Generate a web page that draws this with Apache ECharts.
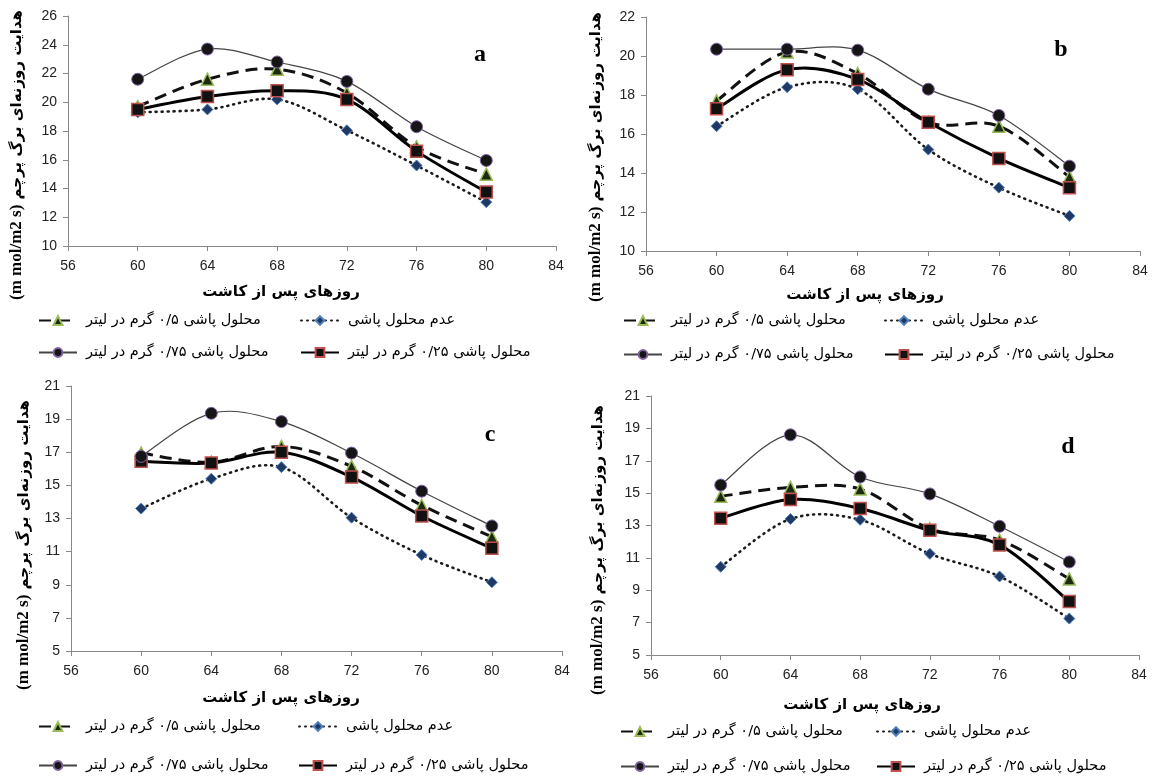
<!DOCTYPE html>
<html>
<head>
<meta charset="utf-8">
<script src="https://cdn.jsdelivr.net/npm/echarts@6/dist/echarts.min.js"></script>
<style>
  html, body { margin: 0; background: #fff; }
  #chart { width: 1154px; height: 780px; }
</style>
</head>
<body>
<div id="chart"></div>
<script>
// روزهای پس از کاشت
const days = [60, 64, 68, 72, 76, 80]
const xTicks = [56, 84, 4]            // min, max, interval

const seriesNames = [
  'عدم محلول پاشی',
  'محلول پاشی ۰/۵ گرم در لیتر',
  'محلول پاشی ۰/۲۵ گرم در لیتر',
  'محلول پاشی ۰/۷۵ گرم در لیتر'
]
const panelLetters = ['a', 'b', 'c', 'd']
const yTicks = [[10, 26, 2], [10, 22, 2], [5, 21, 2], [5, 21, 2]]

// panel a
const aNone = [19.3, 19.5, 20.2, 18.05, 15.6, 13.05]
const aHalf = [19.7, 21.6, 22.3, 20.65, 16.9, 15.0]
const aQuarter = [19.5, 20.4, 20.8, 20.2, 16.6, 13.75]
const aThreeQ = [21.6, 23.7, 22.8, 21.45, 18.3, 15.95]
// panel b
const bNone = [16.4, 18.4, 18.3, 15.2, 13.25, 11.8]
const bHalf = [17.7, 20.2, 19.1, 16.6, 16.4, 13.8]
const bQuarter = [17.3, 19.3, 18.8, 16.6, 14.75, 13.25]
const bThreeQ = [20.35, 20.35, 20.3, 18.3, 16.95, 14.35]
// panel c
const cNone = [13.6, 15.4, 16.1, 13.05, 10.8, 9.15]
const cHalf = [16.95, 16.4, 17.35, 16.15, 13.8, 11.9]
const cQuarter = [16.45, 16.35, 17.0, 15.5, 13.15, 11.2]
const cThreeQ = [16.75, 19.35, 18.85, 16.95, 14.65, 12.55]
// panel d
const dNone = [10.45, 13.4, 13.35, 11.25, 9.85, 7.25]
const dHalf = [14.8, 15.35, 15.25, 12.8, 12.1, 9.7]
const dQuarter = [13.45, 14.6, 14.05, 12.7, 11.8, 8.3]
const dThreeQ = [15.5, 18.6, 16.0, 14.95, 12.95, 10.75]

const panelData = [
  [aNone, aHalf, aQuarter, aThreeQ],
  [bNone, bHalf, bQuarter, bThreeQ],
  [cNone, cHalf, cQuarter, cThreeQ],
  [dNone, dHalf, dQuarter, dThreeQ]
]

// layout of each panel
const panels = [
  { grid: { left: 68, top: 16, width: 488, height: 230 }, xTitle: [281, 292], yTitle: [17, 155], letter: [480, 55],
    legL: 38, legR: 300, rows: [322, 354] },
  { grid: { left: 646, top: 17, width: 494, height: 234 }, xTitle: [865, 295], yTitle: [596, 157], letter: [1061, 50],
    legL: 623, legR: 884, rows: [322, 356] },
  { grid: { left: 71, top: 386, width: 491, height: 265 }, xTitle: [281, 698], yTitle: [24, 545], letter: [490, 435],
    legL: 38, legR: 298, rows: [728, 767] },
  { grid: { left: 651, top: 396, width: 488, height: 259 }, xTitle: [862, 705], yTitle: [598, 550], letter: [1068, 447],
    legL: 620, legR: 876, rows: [733, 768] }
]

// line and marker styles per treatment
const styles = [
  { line: { color: '#1a1a1a', width: 2.6, type: [1, 5], cap: 'round' },
    symbol: 'diamond', size: 11, item: { color: '#1f3864', borderColor: '#4f81bd', borderWidth: 1 } },
  { line: { color: '#111', width: 3, type: [12, 7], cap: 'butt' },
    symbol: 'triangle', size: 12, item: { color: '#1b2a10', borderColor: '#9bbb59', borderWidth: 1.5 } },
  { line: { color: '#000', width: 3, type: 'solid', cap: 'butt' },
    symbol: 'rect', size: 12, item: { color: '#111', borderColor: '#c0504d', borderWidth: 1.5 } },
  { line: { color: '#444', width: 1.2, type: 'solid', cap: 'butt' },
    symbol: 'circle', size: 12, item: { color: '#151515', borderColor: '#8064a2', borderWidth: 1 } }
]

const axisFont = { color: '#222', fontSize: 14, fontFamily: 'Liberation Sans' }
const faFont = 'DejaVu Sans'

// Excel-like smoothed curve (Catmull-Rom -> cubic bezier) through the data points
function smoothPath(pts) {
  let d = 'M' + pts[0][0] + ' ' + pts[0][1]
  for (let i = 0; i < pts.length - 1; i++) {
    const p0 = pts[Math.max(i - 1, 0)], p1 = pts[i], p2 = pts[i + 1], p3 = pts[Math.min(i + 2, pts.length - 1)]
    const c1x = p1[0] + (p2[0] - p0[0]) / 6, c1y = p1[1] + (p2[1] - p0[1]) / 6
    const c2x = p2[0] - (p3[0] - p1[0]) / 6, c2y = p2[1] - (p3[1] - p1[1]) / 6
    d += ' C' + c1x + ' ' + c1y + ' ' + c2x + ' ' + c2y + ' ' + p2[0] + ' ' + p2[1]
  }
  return d
}

const chart = echarts.init(document.getElementById('chart'))

const grids = [], xAxes = [], yAxes = [], series = [], legends = [], graphics = []

panels.forEach((p, i) => {
  grids.push(p.grid)
  xAxes.push({
    type: 'value', gridIndex: i, min: xTicks[0], max: xTicks[1], interval: xTicks[2],
    splitLine: { show: false },
    axisLine: { lineStyle: { color: '#888' } },
    axisTick: { show: true, length: 5, lineStyle: { color: '#888' } },
    axisLabel: Object.assign({ margin: 13 }, axisFont)
  })
  yAxes.push({
    type: 'value', gridIndex: i, min: yTicks[i][0], max: yTicks[i][1], interval: yTicks[i][2],
    splitLine: { show: false },
    axisLine: { show: true, lineStyle: { color: '#888' } },
    axisTick: { show: true, length: 5, lineStyle: { color: '#888' } },
    axisLabel: Object.assign({ margin: 11 }, axisFont)
  })

  panelData[i].forEach((vals, k) => {
    const st = styles[k]
    const pts = days.map((d, j) => [d, vals[j]])
    // smoothed line
    series.push({
      type: 'custom',
      xAxisIndex: i,
      yAxisIndex: i,
      silent: true,
      z: 2 + k * 0.1,
      data: pts,
      renderItem: (params, api) => {
        if (params.dataIndex !== 0) return null
        const px = pts.map(pt => api.coord(pt))
        return {
          type: 'path',
          shape: { pathData: smoothPath(px) },
          style: { fill: null, stroke: st.line.color, lineWidth: st.line.width,
            lineDash: Array.isArray(st.line.type) ? st.line.type : null, lineCap: st.line.cap }
        }
      }
    })
    // markers (and legend entry)
    series.push({
      name: seriesNames[k],
      type: 'line',
      xAxisIndex: i,
      yAxisIndex: i,
      data: pts,
      symbol: st.symbol,
      symbolSize: st.size,
      lineStyle: Object.assign({}, st.line, { opacity: 0 }),
      itemStyle: st.item,
      z: 3 + k
    })
  })

  // legend: two rows, icon left of text
  const legItems = [
    [seriesNames[1], p.legL, p.rows[0]],
    [seriesNames[0], p.legR, p.rows[0]],
    [seriesNames[3], p.legL, p.rows[1]],
    [seriesNames[2], p.legR, p.rows[1]]
  ]
  legItems.forEach(([name, x, y]) => {
    legends.push({
      data: [name],
      left: x,
      top: y - 9,
      padding: 0,
      itemWidth: 38,
      itemHeight: 11,
      selectedMode: false,
      lineStyle: { opacity: 1 },
      textStyle: { fontFamily: faFont, fontSize: 14.5, color: '#000', padding: [0, 0, 0, 4] }
    })
  })

  graphics.push({
    type: 'text', x: p.xTitle[0], y: p.xTitle[1],
    style: { text: 'روزهای پس از کاشت', fontFamily: faFont, fontWeight: 'bold', fontSize: 15,
      fill: '#000', textAlign: 'center', textVerticalAlign: 'middle' }
  })
  graphics.push({
    type: 'text', x: p.yTitle[0], y: p.yTitle[1], rotation: Math.PI / 2,
    style: {
      text: '{l|(m mol/m2 s)}{f| هدایت روزنه‌ای برگ پرچم}',
      rich: {
        l: { fontFamily: 'Liberation Serif', fontWeight: 'bold', fontSize: 17, fill: '#000' },
        f: { fontFamily: faFont, fontWeight: 'bold', fontSize: 15, fill: '#000' }
      },
      fill: '#000', textAlign: 'center', textVerticalAlign: 'middle'
    }
  })
  graphics.push({
    type: 'text', x: p.letter[0], y: p.letter[1],
    style: { text: panelLetters[i], fontFamily: 'Liberation Serif', fontWeight: 'bold', fontSize: 24,
      fill: '#000', textAlign: 'center', textVerticalAlign: 'middle' }
  })
})

chart.setOption({
  backgroundColor: '#fff',
  animation: false,
  grid: grids,
  xAxis: xAxes,
  yAxis: yAxes,
  legend: legends,
  series: series,
  graphic: graphics
})
</script>
</body>
</html>
